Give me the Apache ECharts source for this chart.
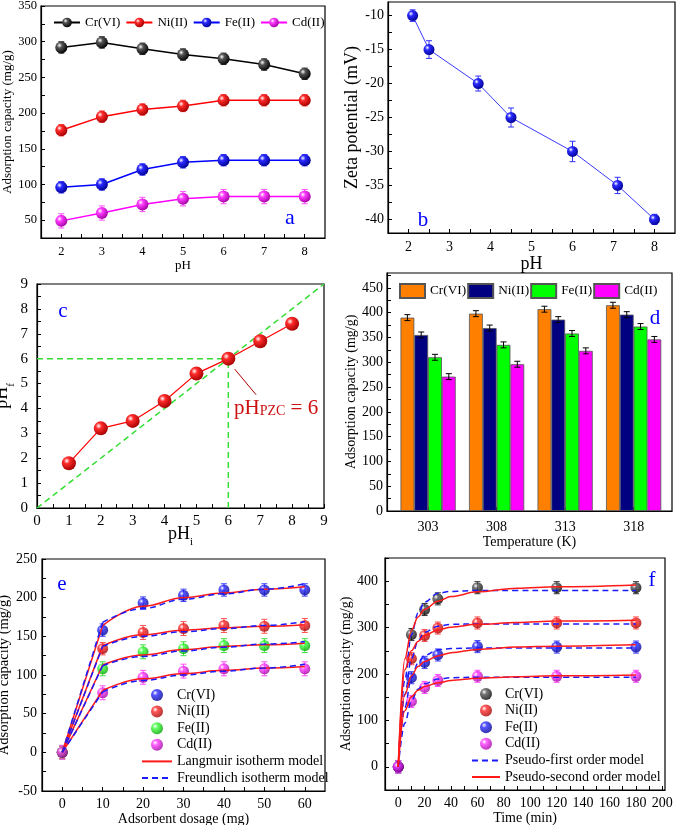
<!DOCTYPE html>
<html><head><meta charset="utf-8">
<script src="https://cdn.jsdelivr.net/npm/echarts@6/dist/echarts.min.js"></script>
<style>html,body{margin:0;padding:0;background:#fff}#c{width:685px;height:825px}</style>
</head><body><div id="c"></div><script>
const FONT = '"Liberation Serif","Times New Roman",serif';

// ---------- Panel a : adsorption capacity vs pH ----------
const pHa = [2,3,4,5,6,7,8];
const aCr = [292,299,290,282,276,268,255];
const aNi = [176,195,205,210,218,218,218];
const aFe = [96,100,121,131,134,134,134];
const aCd = [49,60,72,80,83,83,83];
const aCrErr = [8,8,8,8,8,8,8];
const aNiErr = [8,8,8,8,8,8,8];
const aFeErr = [8,8,8,8,8,8,8];
const aCdErr = [10,10,10,10,10,10,10];
const aYLabels = [50,100,150,200,250,300,350];
const aXLabels = [2,3,4,5,6,7,8];

// ---------- Panel b : zeta potential ----------
const pHb = [2.1,2.5,3.7,4.5,6.0,7.1,8.0];
const zeta = [-10,-15,-20,-25,-30,-35,-40];
const zetaErr = [0.85,1.3,1.1,1.4,1.5,1.2,0.75];
const bYLabels = [-40,-35,-30,-25,-20,-15,-10];
const bXLabels = [2,3,4,5,6,7,8];

// ---------- Panel c : pH drift ----------
const pHi = [1,2,3,4,5,6,7,8];
const pHf = [1.8,3.2,3.5,4.3,5.4,6.0,6.7,7.4];
const pHpzc = 6;
const cLabels = [0,1,2,3,4,5,6,7,8,9];

// ---------- Panel d : temperature ----------
const temps = [303,308,313,318];
const dCr = [390,398,407,415];
const dNi = [355,369,386,396];
const dFe = [310,335,358,372];
const dCd = [271,296,323,346];
const dCrErr = [6,6,6,6];
const dNiErr = [6,6,6,6];
const dFeErr = [6,6,6,6];
const dCdErr = [6,6,6,6];
const dYLabels = [0,50,100,150,200,250,300,350,400,450];

// ---------- Panel e : adsorbent dosage ----------
const dose = [0,10,20,30,40,50,60];
const eCr = [0,158,193,203,210,210,210];
const eNi = [0,134,155,160,164,163,164];
const eFe = [0,108,130,134,138,138,138];
const eCd = [0,77,97,105,108,108,108];
const eCrErr = [8,8,8,8,8,8,8];
const eNiErr = [8,8,9,9,9,9,9];
const eFeErr = [9,9,9,9,9,9,9];
const eCdErr = [9,9,9,9,9,9,9];
const doseFit = [0,10,20,30,40,50,60];
const eCrLang = [0,164,189,200,206,211,214];
const eCrFreu = [0,168,186,198,205,211,218];
const eNiLang = [0,138,152,158,161,163,165];
const eNiFreu = [0,137,150,156,160,164,169];
const eFeLang = [0,113,126,133,137,139,141];
const eFeFreu = [0,112,124,131,136,140,143];
const eCdLang = [0,80,95,102,106,109,111];
const eCdFreu = [0,78,93,100,105,109,114];
const eXLabels = [0,10,20,30,40,50,60];
const eYLabels = [-50,0,50,100,150,200,250];

// ---------- Panel f : contact time ----------
const time = [0,10,20,30,60,120,180];
const fCr = [0,285,339,362,386,386,386];
const fNi = [0,233,283,299,310,310,310];
const fFe = [0,192,225,241,259,258,258];
const fCd = [0,141,171,186,195,195,195];
const fCrErr = [13,13,13,13,13,13,13];
const fNiErr = [13,13,13,13,13,13,13];
const fFeErr = [13,13,13,13,13,13,13];
const fCdErr = [13,13,13,13,13,13,13];
const timeFit = [0,5,10,15,20,30,40,60,90,120,180];
const fCrPFO = [0,188,285,331,355,374,378,380,380,380,380];
const fCrPSO = [0,233,294,323,339,357,367,377,385,388,392];
const fNiPFO = [0,156,233,271,290,303,307,308,308,308,308];
const fNiPSO = [0,209,250,270,283,295,301,307,311,314,316];
const fFePFO = [0,128,192,224,240,252,255,256,256,256,256];
const fFePSO = [0,155,196,216,227,239,246,253,258,260,263];
const fCdPFO = [0,94,142,167,179,189,192,193,193,193,193];
const fCdPSO = [0,121,151,165,173,181,186,191,194,196,198];
const fXLabels = [0,20,40,60,80,100,120,140,160,180,200];
const fYLabels = [0,100,200,300,400];

// ---------- helpers ----------
function steps(a, b, s) { const r = []; for (let v = a; v <= b + 1e-9; v += s) r.push(+v.toFixed(4)); return r; }
function zip(xs, ys) { return xs.map((x, i) => [x, ys[i]]); }
function ball(c, dark) {
  return {type:'radial', x:0.35, y:0.33, r:0.72,
    colorStops:[{offset:0,color:'#ffffff'},{offset:0.3,color:c},{offset:1,color:dark}]};
}
function errSeries(ax, xs, ys, es, color, offsetPx) {
  return {
    type:'custom', xAxisIndex:ax, yAxisIndex:ax, silent:true, z:2,
    data: xs.map((x, i) => [x, ys[i] - es[i], ys[i] + es[i]]),
    encode:{x:0, y:[1,2]},
    renderItem: function (params, api) {
      const x = api.value(0);
      const lo = api.coord([x, api.value(1)]);
      const hi = api.coord([x, api.value(2)]);
      const ox = lo[0] + (offsetPx || 0), cap = 3;
      const st = {stroke:color, lineWidth:1};
      return {type:'group', children:[
        {type:'line', shape:{x1:ox, y1:lo[1], x2:ox, y2:hi[1]}, style:st},
        {type:'line', shape:{x1:ox-cap, y1:lo[1], x2:ox+cap, y2:lo[1]}, style:st},
        {type:'line', shape:{x1:ox-cap, y1:hi[1], x2:ox+cap, y2:hi[1]}, style:st}
      ]};
    }
  };
}
function axis(o) {
  const a = {
    type:'value', gridIndex:o.g, min:o.min, max:o.max,
    name:o.name, nameLocation:'middle', nameGap:o.gap,
    nameTextStyle:{fontFamily:FONT, fontSize:o.nfs, color:'#000', rich:o.rich},
    axisLine:{show:true, onZero:false, lineStyle:{color:'#000', width:1.2}},
    axisTick:{show:true, inside:true, length:4, customValues:o.ticks, lineStyle:{color:'#000', width:1}},
    axisLabel:{show:true, customValues:o.labels, margin:o.margin, fontFamily:FONT, fontSize:o.fs, color:'#000'},
    splitLine:{show:false}
  };
  if (o.noMove) a.nameMoveOverlap = false;
  return a;
}
const subRich = {sub:{fontSize:11, fontFamily:FONT, color:'#000', verticalAlign:'bottom', padding:[0,0,-5,0]}};
const strip = n => n.slice(2);

const C = {black:'#000000', red:'#ff0000', blue:'#0000ff', mag:'#ff00ff', green:'#00ee00'};
const B = {
  black: ball('#555555','#000000'), red: ball('#ff2a2a','#a00000'), blue: ball('#2a2aff','#000090'),
  mag: ball('#ff3cff','#a000a0'), green: ball('#3cff3c','#00a000')
};

function lineA(name, ys, key) {
  return {type:'line', name:name, xAxisIndex:0, yAxisIndex:0, data:zip(pHa, ys), symbol:'circle', symbolSize:12,
    lineStyle:{color:C[key], width:1.5}, itemStyle:{color:B[key]}, z:3};
}
function scat(ax, name, xs, ys, key) {
  return {type:'scatter', name:name, xAxisIndex:ax, yAxisIndex:ax, data:zip(xs, ys), symbol:'circle', symbolSize:11,
    itemStyle:{color:B[key]}, z:4};
}
function fitSeries(ax, name, data, color, dashed, smooth) {
  return {type:'line', name:name, xAxisIndex:ax, yAxisIndex:ax, data:data, showSymbol:false, symbol:'none',
    smooth:smooth, smoothMonotone:'x', itemStyle:{color:'rgba(0,0,0,0)'},
    lineStyle:{color:color, width:1.5, type: dashed ? [6,4] : 'solid'}, z:5};
}
// dosage fits: straight from origin to first dose, smooth afterwards
function fitE(name, ys, color, dashed) {
  const pts = zip(doseFit, ys);
  return [fitSeries(4, name, pts.slice(0, 2), color, dashed, false),
          fitSeries(4, name, pts.slice(1), color, dashed, 0.4)];
}
function fitF(name, ys, color, dashed) {
  return fitSeries(5, name, zip(timeFit, ys), color, dashed, 0.35);
}
const BW = 13.8;
function barD(name, ys, color) {
  return {type:'bar', name:name, xAxisIndex:3, yAxisIndex:3, data:zip(temps, ys), barWidth:BW, barGap:'0%',
    itemStyle:{color:color, borderColor:'#555', borderWidth:0.8}, z:2};
}
const legText = fs => ({fontFamily:FONT, fontSize:fs, color:'#000', lineHeight:fs});

const option = {
  animation:false,
  backgroundColor:'#fff',
  textStyle:{fontFamily:FONT},
  grid:[
    {left:41, top:6, width:284, height:232},
    {left:388, top:2, width:287, height:231},
    {left:37, top:284, width:287, height:224},
    {left:387, top:273, width:285, height:238},
    {left:42, top:559, width:283, height:232},
    {left:385, top:558, width:280, height:232}
  ].map(g => Object.assign(g, {show:true, borderColor:'#000', borderWidth:1.2, backgroundColor:'transparent',
      containLabel:false, outerBoundsMode:'none'})),
  xAxis:[
    axis({g:0, min:1.5, max:8.5, labels:aXLabels, ticks:steps(2,8,0.5), fs:12.5, margin:7, name:'pH', nfs:13, gap:20}),
    axis({g:1, min:1.5, max:8.5, labels:bXLabels, ticks:steps(2,8,0.5), fs:14, margin:7, name:'pH', nfs:18, gap:19}),
    axis({g:2, min:0, max:9, labels:cLabels, ticks:steps(0,9,0.5), fs:15, margin:6, name:'pH{sub|i}', nfs:18, gap:17, rich:subRich, noMove:true}),
    axis({g:3, min:300, max:320.8, labels:temps, ticks:temps, fs:14, margin:9, name:'Temperature (K)', nfs:14, gap:22}),
    axis({g:4, min:-5, max:65, labels:eXLabels, ticks:steps(0,60,5), fs:14, margin:6, name:'Adsorbent dosage (mg)', nfs:14, gap:21}),
    axis({g:5, min:-10, max:202, labels:fXLabels, ticks:steps(0,200,10), fs:14, margin:6, name:'Time (min)', nfs:14, gap:21})
  ],
  yAxis:[
    axis({g:0, min:25, max:350, labels:aYLabels, ticks:steps(25,350,25), fs:12.5, margin:4, name:'Adsorption capacity (mg/g)', nfs:13, gap:25}),
    axis({g:1, min:-42, max:-8, labels:bYLabels, ticks:steps(-40,-10,2.5), fs:14, margin:4, name:'Zeta potential (mV)', nfs:18, gap:26}),
    axis({g:2, min:0, max:9, labels:cLabels, ticks:steps(0,9,0.5), fs:15, margin:9, name:'pH{sub|f}', nfs:18, gap:15, rich:subRich}),
    axis({g:3, min:0, max:480, labels:dYLabels, ticks:steps(0,475,25), fs:14, margin:4, name:'Adsorption capacity (mg/g)', nfs:14, gap:28}),
    axis({g:4, min:-50, max:250, labels:eYLabels, ticks:steps(-50,250,25), fs:14, margin:5, name:'Adsorption capacity (mg/g)', nfs:14.5, gap:25}),
    axis({g:5, min:-50, max:450, labels:fYLabels, ticks:steps(-50,450,50), fs:14, margin:7, name:'Adsorption capacity (mg/g)', nfs:14, gap:25})
  ],
  legend:[
    {left:53, top:16, padding:0, itemWidth:26, itemHeight:12, itemGap:5, formatter:strip,
      textStyle:legText(13),
      data:['a:Cr(VI)','a:Ni(II)','a:Fe(II)','a:Cd(II)']},
    {left:399, top:283, padding:0, icon:'rect', itemWidth:25, itemHeight:14, itemGap:1, formatter:strip,
      textStyle:legText(13.3),
      data:['d:Cr(VI)','d:Ni(II)','d:Fe(II)','d:Cd(II)']},
    {orient:'vertical', left:141, top:688, padding:0, itemWidth:30, itemHeight:12, itemGap:2.6, formatter:strip,
      textStyle:legText(14),
      data:['e:Cr(VI)','e:Ni(II)','e:Fe(II)','e:Cd(II)','e:Langmuir isotherm model','e:Freundlich isotherm model']},
    {orient:'vertical', left:471, top:687, padding:0, itemWidth:28, itemHeight:12, itemGap:2.6, formatter:strip,
      textStyle:legText(14),
      data:['f:Cr(VI)','f:Ni(II)','f:Fe(II)','f:Cd(II)','f:Pseudo-first order model','f:Pseudo-second order model']}
  ],
  graphic:[
    {type:'text', x:290, y:218, style:{text:'a', fill:'#0000ff', fontFamily:FONT, fontSize:22, align:'center', verticalAlign:'middle'}},
    {type:'text', x:423, y:220, style:{text:'b', fill:'#0000ff', fontFamily:FONT, fontSize:21, align:'center', verticalAlign:'middle'}},
    {type:'text', x:63, y:311, style:{text:'c', fill:'#0000ff', fontFamily:FONT, fontSize:21, align:'center', verticalAlign:'middle'}},
    {type:'text', x:655, y:318, style:{text:'d', fill:'#0000ff', fontFamily:FONT, fontSize:21, align:'center', verticalAlign:'middle'}},
    {type:'text', x:62, y:584, style:{text:'e', fill:'#0000ff', fontFamily:FONT, fontSize:21, align:'center', verticalAlign:'middle'}},
    {type:'text', x:652, y:580, style:{text:'f', fill:'#0000ff', fontFamily:FONT, fontSize:21, align:'center', verticalAlign:'middle'}},
    {type:'text', x:234, y:408, style:{text:'{a|pH}{b|PZC}{a| = 6}', align:'left', verticalAlign:'middle',
      rich:{a:{fontFamily:FONT, fontSize:21, fill:'#cc1010'}, b:{fontFamily:FONT, fontSize:14, fill:'#cc1010', verticalAlign:'bottom'}}}}
  ],
  series:[
    // a
    errSeries(0, pHa, aCr, aCrErr, '#333'),
    errSeries(0, pHa, aNi, aNiErr, '#ff5050'),
    errSeries(0, pHa, aFe, aFeErr, '#4040ff'),
    errSeries(0, pHa, aCd, aCdErr, '#ff50ff'),
    lineA('a:Cr(VI)', aCr, 'black'),
    lineA('a:Ni(II)', aNi, 'red'),
    lineA('a:Fe(II)', aFe, 'blue'),
    lineA('a:Cd(II)', aCd, 'mag'),
    // b
    errSeries(1, pHb, zeta, zetaErr, '#3030ff'),
    {type:'line', name:'b:Zeta', xAxisIndex:1, yAxisIndex:1, data:zip(pHb, zeta), symbol:'circle', symbolSize:11,
      lineStyle:{color:'#3a3aff', width:1}, itemStyle:{color:B.blue}, z:3},
    // c
    {type:'line', name:'c:diag', xAxisIndex:2, yAxisIndex:2, data:[[0,0],[9,9]], symbol:'none',
      lineStyle:{color:'#33dd33', width:1.5, type:[6,4]}, z:2},
    {type:'line', name:'c:h', xAxisIndex:2, yAxisIndex:2, data:[[0,pHpzc],[pHpzc,pHpzc]], symbol:'none',
      lineStyle:{color:'#33dd33', width:1.5, type:[6,4]}, z:2},
    {type:'line', name:'c:v', xAxisIndex:2, yAxisIndex:2, data:[[pHpzc,0],[pHpzc,pHpzc]], symbol:'none',
      lineStyle:{color:'#33dd33', width:1.5, type:[6,4]}, z:2},
    {type:'line', name:'c:pH', xAxisIndex:2, yAxisIndex:2, data:zip(pHi, pHf), symbol:'circle', symbolSize:14,
      lineStyle:{color:'#ff0000', width:1.2}, itemStyle:{color:B.red}, z:3,
      markLine:{silent:true, symbol:['none','arrow'], symbolSize:[0,9], label:{show:false},
        lineStyle:{color:'#b00000', width:1, type:'solid'},
        data:[[{coord:[6.87,4.55]},{coord:[6.2,5.58]}]]}},
    // d
    barD('d:Cr(VI)', dCr, '#ff8000'),
    barD('d:Ni(II)', dNi, '#000080'),
    barD('d:Fe(II)', dFe, '#00ff00'),
    barD('d:Cd(II)', dCd, '#ff00ff'),
    Object.assign(errSeries(3, temps, dCr, dCrErr, '#000', -1.5*BW), {z:5}),
    Object.assign(errSeries(3, temps, dNi, dNiErr, '#000', -0.5*BW), {z:5}),
    Object.assign(errSeries(3, temps, dFe, dFeErr, '#000', 0.5*BW), {z:5}),
    Object.assign(errSeries(3, temps, dCd, dCdErr, '#000', 1.5*BW), {z:5}),
    // e
    errSeries(4, dose, eCr, eCrErr, '#4040ff'),
    errSeries(4, dose, eNi, eNiErr, '#ff5050'),
    errSeries(4, dose, eFe, eFeErr, '#40e040'),
    errSeries(4, dose, eCd, eCdErr, '#ff50ff'),
    scat(4, 'e:Cr(VI)', dose, eCr, 'blue'),
    scat(4, 'e:Ni(II)', dose, eNi, 'red'),
    scat(4, 'e:Fe(II)', dose, eFe, 'green'),
    scat(4, 'e:Cd(II)', dose, eCd, 'mag'),
    ...fitE('e:Langmuir isotherm model', eCrLang, '#ff1a1a', false),
    ...fitE('e:Freundlich isotherm model', eCrFreu, '#1a1aff', true),
    ...fitE('e:Langmuir isotherm model', eNiLang, '#ff1a1a', false),
    ...fitE('e:Freundlich isotherm model', eNiFreu, '#1a1aff', true),
    ...fitE('e:Langmuir isotherm model', eFeLang, '#ff1a1a', false),
    ...fitE('e:Freundlich isotherm model', eFeFreu, '#1a1aff', true),
    ...fitE('e:Langmuir isotherm model', eCdLang, '#ff1a1a', false),
    ...fitE('e:Freundlich isotherm model', eCdFreu, '#1a1aff', true),
    // f
    errSeries(5, time, fCr, fCrErr, '#333'),
    errSeries(5, time, fNi, fNiErr, '#ff5050'),
    errSeries(5, time, fFe, fFeErr, '#4040ff'),
    errSeries(5, time, fCd, fCdErr, '#ff50ff'),
    scat(5, 'f:Cr(VI)', time, fCr, 'black'),
    scat(5, 'f:Ni(II)', time, fNi, 'red'),
    scat(5, 'f:Fe(II)', time, fFe, 'blue'),
    scat(5, 'f:Cd(II)', time, fCd, 'mag'),
    fitF('f:Pseudo-first order model', fCrPFO, '#1a1aff', true),
    fitF('f:Pseudo-first order model', fNiPFO, '#1a1aff', true),
    fitF('f:Pseudo-first order model', fFePFO, '#1a1aff', true),
    fitF('f:Pseudo-first order model', fCdPFO, '#1a1aff', true),
    fitF('f:Pseudo-second order model', fCrPSO, '#ff1a1a', false),
    fitF('f:Pseudo-second order model', fNiPSO, '#ff1a1a', false),
    fitF('f:Pseudo-second order model', fFePSO, '#ff1a1a', false),
    fitF('f:Pseudo-second order model', fCdPSO, '#ff1a1a', false)
  ]
};
const chart = echarts.init(document.getElementById('c'), null, {renderer:'canvas'});
chart.setOption(option);
</script></body></html>
